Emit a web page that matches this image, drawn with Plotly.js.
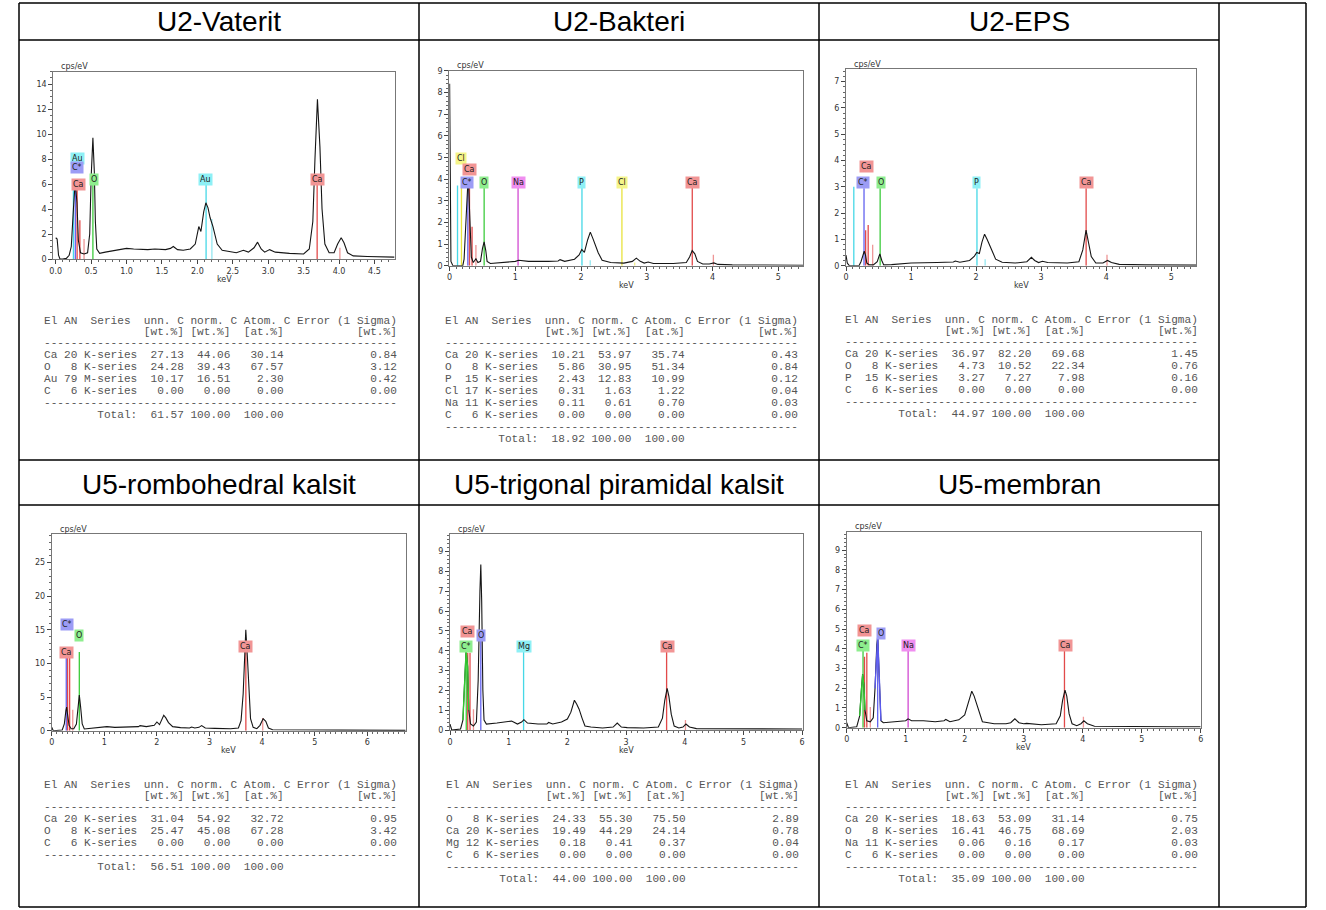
<!DOCTYPE html>
<html><head><meta charset="utf-8">
<script src="https://cdn.plot.ly/plotly-3.0.1.min.js"></script>
<style>html,body{margin:0;padding:0;background:#fff}#chart{width:1326px;height:910px}</style>
</head><body><div id="chart"></div>
<script>
// ================= DATA =================
const panelTitles = ["U2-Vaterit","U2-Bakteri","U2-EPS","U5-rombohedral kalsit","U5-trigonal piramidal kalsit","U5-membran"];

// --- spectra (keV, cps/eV) ---
const p1E = [0.00,0.02,0.04,0.06,0.10,0.15,0.19,0.22,0.25,0.275,0.30,0.32,0.35,0.40,0.45,0.48,0.50,0.525,0.545,0.56,0.58,0.62,0.70,0.80,0.90,1.00,1.10,1.20,1.30,1.40,1.55,1.62,1.66,1.72,1.80,1.90,1.97,2.02,2.05,2.09,2.12,2.15,2.18,2.22,2.28,2.35,2.45,2.55,2.65,2.72,2.80,2.85,2.90,2.95,3.02,3.10,3.30,3.50,3.58,3.63,3.66,3.695,3.73,3.76,3.80,3.86,3.93,3.98,4.03,4.07,4.12,4.20,4.40,4.60,4.78];
const p1C = [1.7,1.6,0.3,0.0,0.0,0.05,0.3,1.0,4.0,6.2,4.5,1.5,0.5,0.4,0.5,2.0,6.5,9.7,7.0,3.0,0.8,0.45,0.55,0.65,0.7,0.85,0.8,0.75,0.75,0.8,0.75,0.85,1.0,0.75,0.7,0.8,1.2,2.6,2.2,3.8,4.5,4.1,3.3,2.6,1.2,0.7,0.6,0.5,0.7,0.55,0.9,1.35,0.8,0.55,0.75,0.55,0.45,0.4,0.8,3.0,8.0,12.8,9.0,4.0,1.2,0.5,0.5,1.2,1.7,1.3,0.5,0.25,0.2,0.2,0.15];

const p2E = [0.00,0.01,0.02,0.05,0.20,0.22,0.25,0.275,0.29,0.31,0.33,0.36,0.40,0.43,0.47,0.50,0.525,0.55,0.57,0.62,0.80,1.00,1.05,1.20,1.50,1.65,1.68,1.75,1.90,1.97,2.01,2.05,2.10,2.14,2.18,2.22,2.26,2.32,2.45,2.65,2.78,2.84,2.90,2.96,3.02,3.10,3.40,3.60,3.65,3.69,3.73,3.77,3.85,3.95,4.02,4.08,4.30,4.80,5.38];
const p2C = [8.4,3.0,0.2,0.0,0.0,0.3,2.0,3.7,3.6,1.5,0.4,0.15,0.32,0.15,0.2,0.8,1.1,0.7,0.2,0.1,0.15,0.2,0.25,0.2,0.2,0.22,0.28,0.2,0.3,0.5,0.75,0.62,1.2,1.55,1.25,0.95,0.6,0.25,0.15,0.12,0.2,0.35,0.2,0.12,0.17,0.1,0.1,0.15,0.4,0.7,0.55,0.2,0.08,0.08,0.13,0.06,0.04,0.03,0.02];

const p3E = [0.00,0.02,0.05,0.20,0.23,0.26,0.28,0.30,0.32,0.36,0.42,0.48,0.52,0.55,0.58,0.70,1.00,1.40,1.65,1.68,1.75,1.90,1.97,2.01,2.05,2.09,2.13,2.17,2.20,2.24,2.30,2.40,2.60,2.78,2.85,2.90,2.96,3.02,3.10,3.40,3.58,3.64,3.69,3.73,3.77,3.84,3.95,4.02,4.08,4.20,4.60,5.38];
const p3C = [0.4,0.1,0.0,0.0,0.15,0.45,0.55,0.4,0.1,0.03,0.03,0.15,0.45,0.2,0.03,0.04,0.1,0.12,0.14,0.18,0.13,0.2,0.35,0.5,0.46,0.9,1.2,1.0,0.8,0.6,0.25,0.13,0.1,0.15,0.32,0.2,0.12,0.17,0.12,0.1,0.15,0.6,1.35,0.9,0.35,0.1,0.1,0.2,0.12,0.05,0.03,0.02];

const p4E = [0.00,0.03,0.20,0.24,0.27,0.285,0.30,0.33,0.37,0.42,0.47,0.50,0.525,0.55,0.58,0.62,0.70,0.90,1.00,1.05,1.20,1.50,1.65,1.68,1.80,1.95,2.00,2.05,2.10,2.13,2.17,2.22,2.30,2.45,2.62,2.66,2.72,2.80,2.85,2.92,3.10,3.40,3.55,3.60,3.64,3.67,3.69,3.72,3.75,3.78,3.83,3.90,3.96,4.02,4.07,4.12,4.20,4.50,5.00,5.50,6.00,6.73];
const p4C = [0.5,0.0,0.1,1.0,3.0,3.5,2.5,0.8,0.3,0.3,1.0,3.5,5.3,3.5,1.0,0.25,0.3,0.4,0.55,0.6,0.5,0.6,0.6,0.75,0.6,0.8,1.3,0.9,1.9,2.3,1.9,1.2,0.6,0.45,0.4,0.55,0.4,0.5,0.75,0.4,0.35,0.3,0.4,1.5,5.5,12.0,15.0,11.0,5.0,1.8,0.5,0.3,0.8,1.8,1.4,0.4,0.15,0.1,0.1,0.08,0.07,0.05];

const p5E = [0.00,0.03,0.18,0.22,0.25,0.275,0.30,0.32,0.35,0.40,0.45,0.48,0.51,0.525,0.54,0.56,0.58,0.62,0.80,1.00,1.05,1.15,1.22,1.26,1.32,1.50,1.65,1.68,1.75,1.90,2.00,2.06,2.12,2.16,2.20,2.25,2.30,2.40,2.60,2.78,2.85,2.92,3.02,3.30,3.55,3.62,3.66,3.70,3.73,3.77,3.82,3.90,3.97,4.02,4.08,4.20,4.80,5.50,6.00];
const p5C = [0.3,0.0,0.05,0.5,2.5,4.0,3.2,1.0,0.3,0.2,0.4,2.5,7.0,8.35,6.5,2.0,0.5,0.3,0.35,0.4,0.45,0.3,0.4,0.52,0.35,0.3,0.3,0.38,0.3,0.4,0.55,0.9,1.5,1.3,1.05,0.6,0.2,0.15,0.1,0.15,0.35,0.15,0.12,0.1,0.15,0.6,1.5,2.1,1.7,0.8,0.2,0.1,0.15,0.3,0.15,0.07,0.06,0.05,0.05];

const p6E = [0.00,0.03,0.17,0.22,0.25,0.27,0.29,0.31,0.34,0.40,0.45,0.48,0.51,0.525,0.54,0.56,0.58,0.62,0.80,1.00,1.04,1.10,1.30,1.50,1.65,1.68,1.75,1.90,2.00,2.06,2.12,2.16,2.20,2.25,2.30,2.40,2.50,2.70,2.78,2.85,2.92,3.00,3.05,3.30,3.55,3.62,3.66,3.70,3.73,3.77,3.82,3.90,3.97,4.02,4.08,4.20,4.80,5.50,6.00];
const p6C = [0.25,0.0,0.05,0.6,2.0,2.7,2.2,0.9,0.35,0.3,0.5,2.0,4.2,4.6,3.5,1.2,0.35,0.25,0.3,0.35,0.45,0.35,0.35,0.3,0.35,0.42,0.3,0.4,0.65,1.2,1.85,1.6,1.2,0.7,0.3,0.25,0.2,0.2,0.25,0.45,0.25,0.2,0.22,0.15,0.2,0.6,1.4,1.9,1.6,0.7,0.2,0.1,0.2,0.35,0.2,0.07,0.05,0.05,0.05];

// --- element marker lines (family, keV, height in cps/eV) ---
const p1LineFam = ["Au M","C Ka","Ca L","Ca L","Ca Lb","O Ka","Au M","Au Mb","Ca Ka","Ca Kb"];
const p1LineKeV = [0.25,0.277,0.302,0.341,0.40,0.525,2.123,2.205,3.691,4.012];
const p1LineCps = [5.9,5.9,5.6,3.1,1.6,6.0,6.0,3.2,6.0,0.9];
const p2LineFam = ["P L","Cl L","C Ka","Ca L","Ca L","Ca Lb","O Ka","Na Ka","P Ka","P Kb","Cl Ka","Cl Kb","Ca Ka","Ca Kb"];
const p2LineKeV = [0.12,0.18,0.277,0.302,0.341,0.40,0.525,1.041,2.013,2.139,2.621,2.815,3.691,4.012];
const p2LineCps = [3.7,3.7,3.6,3.6,1.8,0.95,3.6,3.6,3.6,0.25,3.6,0.15,3.6,0.5];
const p3LineFam = ["P L","C Ka","Ca L","Ca L","Ca Lb","O Ka","P Ka","P Kb","Ca Ka","Ca Kb"];
const p3LineKeV = [0.12,0.277,0.302,0.341,0.41,0.525,2.013,2.139,3.691,4.012];
const p3LineCps = [3.0,2.95,1.35,1.55,0.8,2.95,2.95,0.25,2.95,0.42];
const p4LineFam = ["C Ka","Ca L","Ca L","Ca Lb","O Ka","Ca Ka","Ca Kb"];
const p4LineKeV = [0.277,0.302,0.341,0.40,0.525,3.691,4.012];
const p4LineCps = [10.8,10.8,10.8,3.1,11.7,11.9,1.9];
const p5LineFam = ["C Ka","Ca L","Ca L","Ca Lb","O Ka","Mg Ka","Ca Ka","Ca Kb"];
const p5LineKeV = [0.277,0.302,0.341,0.40,0.525,1.254,3.691,4.012];
const p5LineCps = [3.95,3.9,3.9,1.05,4.5,3.95,3.95,0.5];
const p6LineFam = ["C Ka","Ca L","Ca L","Ca Lb","O Ka","Na Ka","Ca Ka","Ca Kb"];
const p6LineKeV = [0.277,0.302,0.341,0.40,0.525,1.041,3.691,4.012];
const p6LineCps = [3.95,3.6,3.8,1.05,4.5,3.95,3.95,0.55];

// --- element labels (text, keV, cps/eV) ---
const p1LabText = ["Au","C*","Ca","O","Au","Ca"];
const p1LabKeV  = [0.306,0.306,0.32,0.54,2.12,3.69];
const p1LabCps  = [8.07,7.32,5.93,6.39,6.39,6.39];
const p2LabText = ["Cl","Ca","C*","O","Na","P","Cl","Ca"];
const p2LabKeV  = [0.17,0.30,0.27,0.52,1.04,2.01,2.62,3.69];
const p2LabCps  = [4.95,4.43,3.85,3.85,3.85,3.85,3.85,3.85];
const p3LabText = ["Ca","C*","O","P","Ca"];
const p3LabKeV  = [0.317,0.266,0.537,2.006,3.695];
const p3LabCps  = [3.77,3.17,3.17,3.17,3.17];
const p4LabText = ["C*","O","Ca","Ca"];
const p4LabKeV  = [0.285,0.52,0.285,3.69];
const p4LabCps  = [15.84,14.1,11.58,12.48];
const p5LabText = ["Ca","O","C*","Mg","Ca"];
const p5LabKeV  = [0.30,0.534,0.273,1.26,3.70];
const p5LabCps  = [4.96,4.76,4.2,4.2,4.2];
const p6LabText = ["Ca","O","C*","Na","Ca"];
const p6LabKeV  = [0.30,0.58,0.27,1.045,3.71];
const p6LabCps  = [4.95,4.78,4.19,4.19,4.19];

// --- quantification tables ---
const tableHeader = "El AN  Series  unn. C norm. C Atom. C Error (1 Sigma)";
const tableUnits  = ["[wt.%]","[wt.%]","[at.%]","[wt.%]"];
const t1El=["Ca","O","Au","C"], t1AN=[20,8,79,6], t1Series=["K-series","K-series","M-series","K-series"];
const t1Unn=[27.13,24.28,10.17,0.00], t1Norm=[44.06,39.43,16.51,0.00], t1Atom=[30.14,67.57,2.30,0.00], t1Err=[0.84,3.12,0.42,0.00], t1Total=[61.57,100.00,100.00];
const t2El=["Ca","O","P","Cl","Na","C"], t2AN=[20,8,15,17,11,6], t2Series=["K-series","K-series","K-series","K-series","K-series","K-series"];
const t2Unn=[10.21,5.86,2.43,0.31,0.11,0.00], t2Norm=[53.97,30.95,12.83,1.63,0.61,0.00], t2Atom=[35.74,51.34,10.99,1.22,0.70,0.00], t2Err=[0.43,0.84,0.12,0.04,0.03,0.00], t2Total=[18.92,100.00,100.00];
const t3El=["Ca","O","P","C"], t3AN=[20,8,15,6], t3Series=["K-series","K-series","K-series","K-series"];
const t3Unn=[36.97,4.73,3.27,0.00], t3Norm=[82.20,10.52,7.27,0.00], t3Atom=[69.68,22.34,7.98,0.00], t3Err=[1.45,0.76,0.16,0.00], t3Total=[44.97,100.00,100.00];
const t4El=["Ca","O","C"], t4AN=[20,8,6], t4Series=["K-series","K-series","K-series"];
const t4Unn=[31.04,25.47,0.00], t4Norm=[54.92,45.08,0.00], t4Atom=[32.72,67.28,0.00], t4Err=[0.95,3.42,0.00], t4Total=[56.51,100.00,100.00];
const t5El=["O","Ca","Mg","C"], t5AN=[8,20,12,6], t5Series=["K-series","K-series","K-series","K-series"];
const t5Unn=[24.33,19.49,0.18,0.00], t5Norm=[55.30,44.29,0.41,0.00], t5Atom=[75.50,24.14,0.37,0.00], t5Err=[2.89,0.78,0.04,0.00], t5Total=[44.00,100.00,100.00];
const t6El=["Ca","O","Na","C"], t6AN=[20,8,11,6], t6Series=["K-series","K-series","K-series","K-series"];
const t6Unn=[18.63,16.41,0.06,0.00], t6Norm=[53.09,46.75,0.16,0.00], t6Atom=[31.14,68.69,0.17,0.00], t6Err=[0.75,2.03,0.03,0.00], t6Total=[35.09,100.00,100.00];

// ================= LAYOUT / STYLE =================
const W = 1326, H = 910;
const PX = v => v / W, PY = v => 1 - v / H;

const spectra = [[p1E,p1C],[p2E,p2C],[p3E,p3C],[p4E,p4C],[p5E,p5C],[p6E,p6C]];
const lines = [[p1LineFam,p1LineKeV,p1LineCps],[p2LineFam,p2LineKeV,p2LineCps],[p3LineFam,p3LineKeV,p3LineCps],[p4LineFam,p4LineKeV,p4LineCps],[p5LineFam,p5LineKeV,p5LineCps],[p6LineFam,p6LineKeV,p6LineCps]];
const labels = [[p1LabText,p1LabKeV,p1LabCps],[p2LabText,p2LabKeV,p2LabCps],[p3LabText,p3LabKeV,p3LabCps],[p4LabText,p4LabKeV,p4LabCps],[p5LabText,p5LabKeV,p5LabCps],[p6LabText,p6LabKeV,p6LabCps]];
const tables = [
 [t1El,t1AN,t1Series,t1Unn,t1Norm,t1Atom,t1Err,t1Total],
 [t2El,t2AN,t2Series,t2Unn,t2Norm,t2Atom,t2Err,t2Total],
 [t3El,t3AN,t3Series,t3Unn,t3Norm,t3Atom,t3Err,t3Total],
 [t4El,t4AN,t4Series,t4Unn,t4Norm,t4Atom,t4Err,t4Total],
 [t5El,t5AN,t5Series,t5Unn,t5Norm,t5Atom,t5Err,t5Total],
 [t6El,t6AN,t6Series,t6Unn,t6Norm,t6Atom,t6Err,t6Total]
];

// plot boxes [left, top, right, bottom] in px
const boxes = [[53.3,71.7,395,259],[449.3,70.7,803.3,265.7],[846,69.3,1196,265.7],[51.7,534.3,405.7,730.7],[450,534,802.7,730],[846.7,531.7,1200.7,727.7]];
const xRanges = [[-0.034,4.79],[-0.005,5.38],[0,5.38],[0,6.73],[0,6.01],[0,6.0]];
const yRanges = [[0,15],[0,9],[0,7.47],[0,29.2],[0,9.89],[0,9.93]];
const xDt = [0.5,1,1,1,1,1], yDt = [2,1,1,5,1,1];
const xMinor = [0.1,0.1,0.1,0.1,0.1,0.1], yMinor = [0.5,0.2,0.2,1,0.2,0.2];

const lineCol = {Ca:'#e04040', C:'#5a5aee', O:'#32c832', Au:'#3cd6e6', P:'#3cd6e6', Cl:'#e6e032', Na:'#d040d0', Mg:'#3cd6e6'};
const labBg  = {Ca:'#f29595', C:'#9c9cf5', O:'#8eee8e', Au:'#8ef0f5', P:'#8ef0f5', Cl:'#f5f58a', Na:'#f08ef0', Mg:'#8ef0f5'};
// in the U5 trigonal / membran spectra the software swapped C and O colours
const swapCO = [false,false,false,false,true,true];
function colFor(map, el, i){
  if (swapCO[i] && el === 'C') return map.O;
  if (swapCO[i] && el === 'O') return map.C;
  return map[el];
}
// spectrum segments outlined in the element colour (element, keV from, keV to)
const peakOutline = [[],[],[],[],[['C',0.20,0.33]],[['C',0.20,0.33],['O',0.46,0.58]]];

const titleRowY = [21, 484];
const colCenters = [219, 619, 1019];
const tableLeft = [43.5, 445, 845, 43.5, 446, 845];
const tableTop  = [321, 321, 320, 785, 785, 785];
const rowStep = 12;

const data = [];
const layout = {width:W, height:H, margin:{l:0,r:0,t:0,b:0,autoexpand:false},
  paper_bgcolor:'#fff', plot_bgcolor:'#fff', showlegend:false, shapes:[], annotations:[]};

const tickFont = {family:'DejaVu Sans, Verdana, sans-serif', size:8, color:'#333'};

for (let i = 0; i < 6; i++){
  const n = i + 1, xa = 'x' + (n>1?n:''), ya = 'y' + (n>1?n:'');
  const b = boxes[i];
  layout['xaxis' + (n>1?n:'')] = {domain:[PX(b[0]), PX(b[2])], anchor:ya, range:xRanges[i],
    showline:true, mirror:true, linecolor:'#777', linewidth:1, ticks:'outside', ticklen:4, tickcolor:'#444',
    dtick:xDt[i], tick0:0, tickformat: xDt[i] < 1 ? '.1f' : 'd', showgrid:false, zeroline:false, tickfont:tickFont,
    minor:{ticks:'outside', ticklen:2, tickcolor:'#666', dtick:xMinor[i], tick0:0, showgrid:false}, fixedrange:true};
  layout['yaxis' + (n>1?n:'')] = {domain:[PY(b[3]), PY(b[1])], anchor:xa, range:yRanges[i],
    showline:true, mirror:true, linecolor:'#777', linewidth:1, ticks:'outside', ticklen:4, tickcolor:'#444',
    dtick:yDt[i], tick0:0, showgrid:false, zeroline:false, tickfont:tickFont,
    minor:{ticks:'outside', ticklen:2, tickcolor:'#666', dtick:yMinor[i], tick0:0, showgrid:false}, fixedrange:true};

  // element lines
  const [fam, kev, cps] = lines[i];
  for (let k = 0; k < fam.length; k++){
    const el = fam[k].split(' ')[0];
    data.push({type:'scatter', mode:'lines', x:[kev[k], kev[k]], y:[0, cps[k]], xaxis:xa, yaxis:ya,
      line:{color:colFor(lineCol, el, i), width:1.3}, opacity: (/Kb|Lb|Mb/.test(fam[k])) ? 0.55 : 0.95, hoverinfo:'skip'});
  }
  // spectrum
  data.push({type:'scatter', mode:'lines', x:spectra[i][0], y:spectra[i][1], xaxis:xa, yaxis:ya,
    line:{color:'#151515', width:1.1}, hoverinfo:'skip'});
  // coloured peak outlines taken from the same spectrum
  peakOutline[i].forEach(([el, lo, hi]) => {
    const xs = [], ys = [];
    spectra[i][0].forEach((e, j) => { if (e >= lo && e <= hi) { xs.push(e); ys.push(spectra[i][1][j]); } });
    data.push({type:'scatter', mode:'lines', x:xs, y:ys, xaxis:xa, yaxis:ya,
      line:{color:colFor(lineCol, el, i), width:1.4}, hoverinfo:'skip'});
  });

  // labels
  const [lt, lk, lc] = labels[i];
  for (let k = 0; k < lt.length; k++){
    const el = lt[k].replace('*','');
    layout.annotations.push({xref:xa, yref:ya, x:lk[k], y:lc[k], text:lt[k], showarrow:false,
      bgcolor:colFor(labBg, el, i), borderpad:1, height:9, font:{family:'DejaVu Sans, Verdana, sans-serif', size:8, color:'#222'},
      xanchor:'center', yanchor:'middle'});
  }
  // axis captions
  layout.annotations.push({xref:'paper', yref:'paper', x:PX(b[0]+6), y:PY(b[1]-5), text:'cps/eV', showarrow:false,
    xanchor:'left', yanchor:'middle', font:{family:'DejaVu Sans, Verdana, sans-serif', size:8, color:'#333'}});
  layout.annotations.push({xref:'paper', yref:'paper', x:PX((b[0]+b[2])/2), y:PY(b[3]+20), text:'keV', showarrow:false,
    xanchor:'center', yanchor:'middle', font:{family:'DejaVu Sans, Verdana, sans-serif', size:8, color:'#333'}});

  // panel title
  layout.annotations.push({xref:'paper', yref:'paper', x:PX(colCenters[i%3]), y:PY(titleRowY[Math.floor(i/3)]),
    text:panelTitles[i], showarrow:false, xanchor:'center', yanchor:'middle',
    font:{family:'Liberation Sans, Arial, sans-serif', size:28, color:'#000'}});

  // table
  const [tEl,tAN,tSe,tU,tN,tA,tE,tT] = tables[i];
  const tl = [];
  tl.push(tableHeader);
  tl.push(' '.repeat(15) + tableUnits[0] + ' ' + tableUnits[1] + '  ' + tableUnits[2] + ' '.repeat(11) + tableUnits[3]);
  tl.push('-'.repeat(53));
  for (let r = 0; r < tEl.length; r++){
    tl.push(tEl[r].padEnd(2) + ' ' + String(tAN[r]).padStart(2) + ' ' + tSe[r] +
      tU[r].toFixed(2).padStart(7) + tN[r].toFixed(2).padStart(7) + tA[r].toFixed(2).padStart(8) + tE[r].toFixed(2).padStart(17));
  }
  tl.push('-'.repeat(53));
  tl.push(' '.repeat(8) + 'Total:' + tT[0].toFixed(2).padStart(7) + tT[1].toFixed(2).padStart(7) + tT[2].toFixed(2).padStart(8));
  const yPos = [0, 10.5, 22];
  for (let r = 0; r < tEl.length; r++) yPos.push(34 + r*rowStep);
  yPos.push(34 + tEl.length*rowStep);
  yPos.push(34 + (tEl.length+1)*rowStep);
  tl.forEach((s, r) => {
    layout.annotations.push({xref:'paper', yref:'paper', x:PX(tableLeft[i]-1), y:PY(tableTop[i] + yPos[r]),
      text:s.replace(/ /g, '\u00a0'), showarrow:false, xanchor:'left', yanchor:'middle', borderpad:0,
      font:{family:'Liberation Mono, Courier New, monospace', size:11.1, color:'#555'}});
  });
}

// table grid
const grid = [
  [19,3,1306,3],[19,40,1219,40],[19,460,1219,460],[19,505,1219,505],[19,907,1306,907],
  [19,3,19,907],[419,3,419,907],[819,3,819,907],[1219,3,1219,907],[1306,3,1306,907]
];
grid.forEach(g => layout.shapes.push({type:'line', xref:'paper', yref:'paper',
  x0:PX(g[0]), y0:PY(g[1]), x1:PX(g[2]), y1:PY(g[3]), line:{color:'#000', width:1.5}}));

Plotly.newPlot('chart', data, layout, {staticPlot:true, displayModeBar:false});
</script>
</body></html>
